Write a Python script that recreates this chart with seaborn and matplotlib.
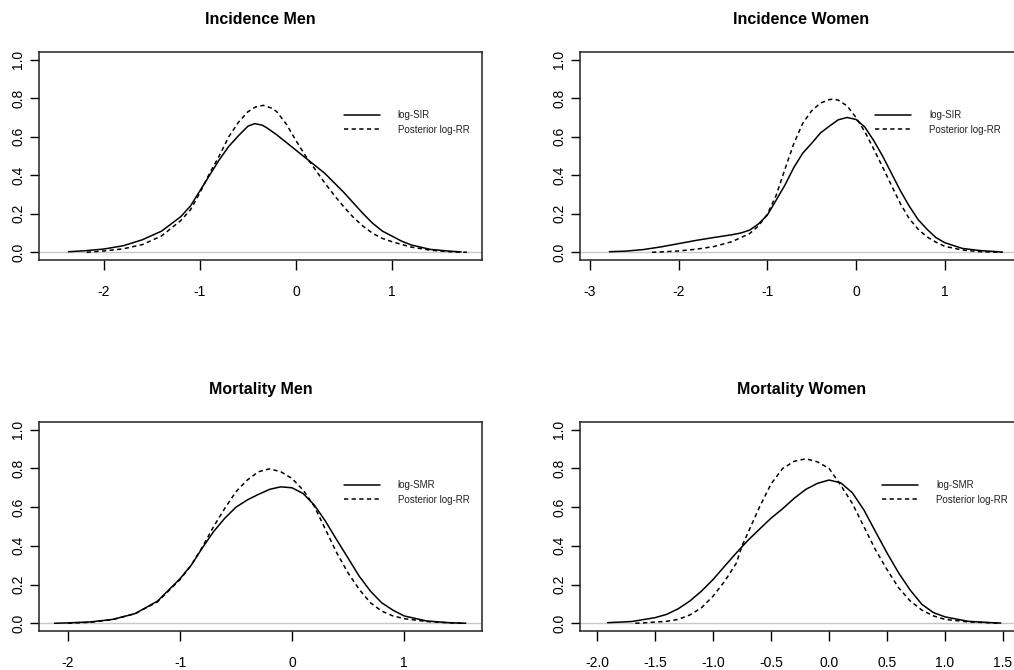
import matplotlib
matplotlib.use("Agg")
import matplotlib.pyplot as plt
import seaborn as sns

# ---------------- data ----------------
titles = ["Incidence Men", "Incidence Women", "Mortality Men", "Mortality Women"]
obs_labels = ["log-SIR", "log-SIR", "log-SMR", "log-SMR"]
post_label = "Posterior log-RR"

# Incidence Men
im_obs_x = [-2.37, -2.2, -2.0, -1.8, -1.6, -1.4, -1.2, -1.1, -1.0, -0.9, -0.8, -0.7, -0.6, -0.5, -0.43,
            -0.35, -0.3, -0.2, -0.1, 0.0, 0.1, 0.2, 0.3, 0.4, 0.5, 0.6, 0.7, 0.8, 0.9, 1.0, 1.1, 1.2,
            1.4, 1.6, 1.72]
im_obs_y = [0.003, 0.008, 0.017, 0.034, 0.065, 0.11, 0.185, 0.24, 0.32, 0.40, 0.48, 0.55, 0.605, 0.655,
            0.668, 0.66, 0.645, 0.61, 0.57, 0.53, 0.49, 0.45, 0.41, 0.36, 0.31, 0.255, 0.20, 0.15, 0.11,
            0.084, 0.058, 0.038, 0.015, 0.006, 0.002]
im_post_x = [-2.18, -2.0, -1.8, -1.6, -1.4, -1.2, -1.1, -1.0, -0.9, -0.8, -0.7, -0.6, -0.5, -0.42, -0.34,
             -0.25, -0.2, -0.1, 0.0, 0.1, 0.2, 0.3, 0.4, 0.5, 0.6, 0.7, 0.8, 0.9, 1.0, 1.2, 1.4, 1.6, 1.78]
im_post_y = [0.0, 0.007, 0.018, 0.04, 0.085, 0.165, 0.22, 0.31, 0.41, 0.50, 0.60, 0.675, 0.73, 0.755, 0.763,
             0.748, 0.73, 0.665, 0.58, 0.50, 0.43, 0.36, 0.295, 0.235, 0.18, 0.135, 0.098, 0.072, 0.055,
             0.027, 0.011, 0.003, 0.0]

# Incidence Women
iw_obs_x = [-2.78, -2.6, -2.4, -2.2, -2.0, -1.8, -1.6, -1.4, -1.3, -1.2, -1.1, -1.0, -0.9, -0.8,
            -0.7, -0.6, -0.5, -0.4, -0.3, -0.2, -0.1, 0.0, 0.1, 0.2, 0.3, 0.4, 0.5, 0.6, 0.7, 0.8,
            0.9, 1.0, 1.2, 1.4, 1.6, 1.65]
iw_obs_y = [0.003, 0.006, 0.014, 0.028, 0.045, 0.062, 0.077, 0.091, 0.10, 0.115, 0.147, 0.193, 0.271, 0.35,
            0.441, 0.515, 0.566, 0.62, 0.655, 0.688, 0.70, 0.69, 0.65, 0.58, 0.50, 0.41, 0.32, 0.24,
            0.17, 0.12, 0.077, 0.05, 0.02, 0.009, 0.003, 0.001]
iw_post_x = [-2.30, -2.2, -2.0, -1.8, -1.6, -1.4, -1.2, -1.1, -1.0, -0.9, -0.8, -0.7, -0.6, -0.5,
             -0.4, -0.3, -0.25, -0.2, -0.1, 0.0, 0.1, 0.2, 0.3, 0.4, 0.5, 0.6, 0.7, 0.8, 0.9, 1.0,
             1.2, 1.4, 1.65]
iw_post_y = [0.0, 0.002, 0.007, 0.016, 0.03, 0.055, 0.097, 0.137, 0.197, 0.296, 0.433, 0.566, 0.67, 0.735,
             0.775, 0.793, 0.795, 0.79, 0.76, 0.70, 0.626, 0.536, 0.443, 0.347, 0.253, 0.175, 0.12, 0.08,
             0.053, 0.031, 0.012, 0.003, 0.0]

# Mortality Men
mm_obs_x = [-2.12, -2.0, -1.8, -1.6, -1.4, -1.2, -1.0, -0.9, -0.8, -0.7, -0.6, -0.5, -0.4, -0.3, -0.2,
            -0.1, 0.0, 0.1, 0.2, 0.3, 0.4, 0.5, 0.6, 0.7, 0.8, 0.9, 1.0, 1.2, 1.4, 1.55]
mm_obs_y = [0.0, 0.002, 0.007, 0.02, 0.05, 0.115, 0.23, 0.30, 0.39, 0.474, 0.543, 0.60, 0.637, 0.666, 0.692,
            0.705, 0.70, 0.67, 0.61, 0.526, 0.43, 0.337, 0.243, 0.166, 0.106, 0.068, 0.038, 0.012, 0.003, 0.0]
mm_post_x = [-2.0, -1.8, -1.6, -1.4, -1.2, -1.0, -0.9, -0.8, -0.7, -0.6, -0.5, -0.4, -0.3, -0.2, -0.1,
             0.0, 0.1, 0.2, 0.3, 0.4, 0.5, 0.6, 0.7, 0.8, 0.9, 1.0, 1.2, 1.4, 1.55]
mm_post_y = [0.0, 0.005, 0.019, 0.05, 0.111, 0.226, 0.30, 0.394, 0.50, 0.594, 0.68, 0.74, 0.783, 0.798, 0.783,
             0.748, 0.688, 0.603, 0.483, 0.363, 0.26, 0.175, 0.106, 0.063, 0.038, 0.024, 0.009, 0.002, 0.0]

# Mortality Women
mw_obs_x = [-1.91, -1.7, -1.5, -1.4, -1.3, -1.2, -1.1, -1.0, -0.9, -0.8, -0.7, -0.6, -0.5, -0.4, -0.3,
            -0.2, -0.1, 0.0, 0.1, 0.2, 0.3, 0.4, 0.5, 0.6, 0.7, 0.8, 0.9, 1.0, 1.2, 1.4, 1.48]
mw_obs_y = [0.003, 0.009, 0.029, 0.046, 0.075, 0.115, 0.166, 0.226, 0.295, 0.363, 0.428, 0.486, 0.543, 0.592,
            0.646, 0.692, 0.723, 0.74, 0.726, 0.675, 0.586, 0.474, 0.363, 0.26, 0.171, 0.098, 0.055, 0.033,
            0.01, 0.003, 0.001]
mw_post_x = [-1.67, -1.6, -1.4, -1.3, -1.2, -1.1, -1.0, -0.9, -0.8, -0.75, -0.7, -0.6, -0.5, -0.4, -0.3,
             -0.2, -0.1, 0.0, 0.1, 0.2, 0.3, 0.4, 0.5, 0.6, 0.7, 0.8, 0.9, 1.0, 1.2, 1.4, 1.48]
mw_post_y = [0.0, 0.002, 0.01, 0.02, 0.043, 0.08, 0.14, 0.217, 0.31, 0.40, 0.466, 0.60, 0.72, 0.80, 0.837,
             0.85, 0.834, 0.80, 0.714, 0.62, 0.50, 0.38, 0.277, 0.183, 0.115, 0.068, 0.038, 0.02, 0.007,
             0.002, 0.0]

x_ticks = [[-2, -1, 0, 1], [-3, -2, -1, 0, 1], [-2, -1, 0, 1],
           [-2.0, -1.5, -1.0, -0.5, 0.0, 0.5, 1.0, 1.5]]
x_tick_labels = [["-2", "-1", "0", "1"], ["-3", "-2", "-1", "0", "1"], ["-2", "-1", "0", "1"],
                 ["-2.0", "-1.5", "-1.0", "-0.5", "0.0", "0.5", "1.0", "1.5"]]
y_ticks = [0.0, 0.2, 0.4, 0.6, 0.8, 1.0]
y_tick_labels = ["0.0", "0.2", "0.4", "0.6", "0.8", "1.0"]

curves = [
    (im_obs_x, im_obs_y, im_post_x, im_post_y),
    (iw_obs_x, iw_obs_y, iw_post_x, iw_post_y),
    (mm_obs_x, mm_obs_y, mm_post_x, mm_post_y),
    (mw_obs_x, mw_obs_y, mw_post_x, mw_post_y),
]

# ---------------- layout / style ----------------
sns.set_theme(style="white")
plt.rcParams["font.family"] = ["Liberation Sans", "DejaVu Sans"]
plt.rcParams["axes.unicode_minus"] = False

W, H = 1014, 670
fig = plt.figure(figsize=(W / 100, H / 100), dpi=100)
fig.patch.set_facecolor("white")

# axes boxes in pixels: left, top, right, bottom
boxes = [(39, 52, 482, 260), (580, 52, 1023, 260), (39, 422, 482, 631), (580, 422, 1023, 631)]
xlims = [(-2.677, 1.9375), (-3.112, 1.883), (-2.259, 1.696), (-2.147, 1.672)]
legend_anchor = [(0.688, 0.661), (0.666, 0.661), (0.688, 0.663), (0.682, 0.663)]

for i in range(4):
    l, t, r, b = boxes[i]
    ax = fig.add_axes([l / W, 1 - b / H, (r - l) / W, (b - t) / H])
    ax.set_facecolor("white")
    ox, oy, px, py = curves[i]
    # zero line
    ax.axhline(0, color="#c8c8c8", lw=1.0, zorder=1)
    sns.lineplot(x=ox, y=oy, ax=ax, color="black", lw=1.1, estimator=None, sort=False,
                 label=obs_labels[i], zorder=3)
    sns.lineplot(x=px, y=py, ax=ax, color="black", lw=1.1, estimator=None, sort=False,
                 label=post_label, linestyle=(0, (2.8, 2.2)), zorder=3)
    ax.set_xlim(*xlims[i])
    ax.set_ylim(-0.04, 1.04)
    ax.set_xticks(x_ticks[i])
    ax.set_xticklabels(x_tick_labels[i])
    ax.set_yticks(y_ticks)
    ax.set_yticklabels(y_tick_labels, rotation=90, va="center")
    ax.tick_params(axis="x", direction="out", length=7, width=1.0, color="black",
                   labelsize=10, pad=11, bottom=True, labelcolor="black")
    ax.tick_params(axis="y", direction="out", length=6.5, width=1.0, color="black",
                   labelsize=10, pad=3.5, left=True, labelcolor="black")
    for s in ax.spines.values():
        s.set_visible(True)
        s.set_color("#222222")
        s.set_linewidth(1.1)
    ax.set_xlabel("")
    ax.set_ylabel("")
    ax.set_title(titles[i], fontsize=11.5, fontweight="bold", pad=20, color="black")
    leg = ax.legend(loc="center left", bbox_to_anchor=legend_anchor[i], frameon=False,
                    fontsize=7, handlelength=3.7, handletextpad=1.85, labelspacing=0.45,
                    borderpad=0, borderaxespad=0)
    for txt in leg.get_texts():
        txt.set_color("#222222")

fig.savefig("out.png", dpi=100, facecolor="white")
